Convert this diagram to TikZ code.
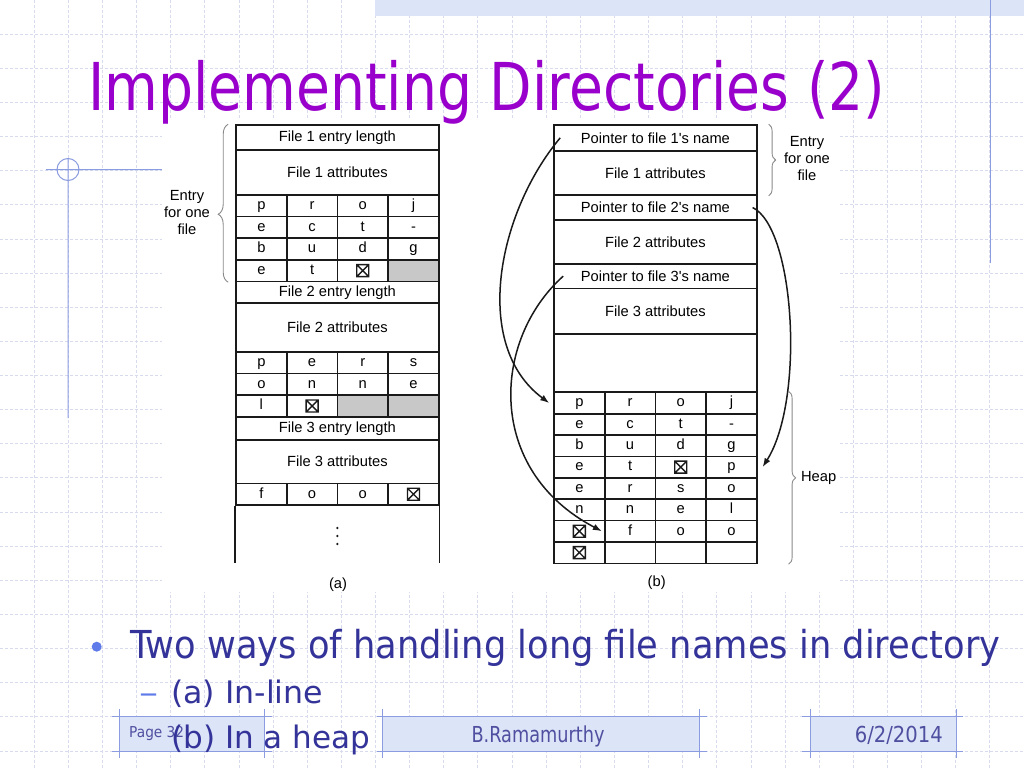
\documentclass[tikz,border=0pt]{standalone}
\usepackage{fontspec}
\usepackage{graphicx}
\usepackage{tikz}
\usetikzlibrary{decorations.pathreplacing, arrows.meta}
\newfontfamily\figfont{Liberation Sans}
\newfontfamily\slidefont{DejaVu Sans}
\definecolor{titlepurple}{HTML}{9900CC}
\definecolor{navy}{HTML}{333399}
\definecolor{footblue}{HTML}{4F4FA0}
\definecolor{decoblue}{HTML}{8C9CE0}
\definecolor{dotblue}{HTML}{5F7BEA}
\definecolor{gridline}{HTML}{D8DBEE}
\definecolor{bandfill}{HTML}{DCE4F8}
\definecolor{shade}{HTML}{C8C8C8}
\definecolor{ink}{HTML}{1A1A1A}
\definecolor{bracegray}{HTML}{8A8A8A}
\newcommand{\figtext}{\figfont\fontsize{14.7pt}{17pt}\selectfont}
\newcommand{\slidetext}[1]{\slidefont\fontsize{#1}{#1}\selectfont}
\newcommand{\fitw}[2]{\resizebox{#1}{\height}{#2}}
\newcommand{\xbox}{\tikz[baseline=2.2pt]\draw[line width=1.4pt, ink] (0pt,0pt) rectangle (12pt,12pt) (0pt,0pt)--(12pt,12pt) (0pt,12pt)--(12pt,0pt);}
\tikzset{>={Latex[length=9pt, width=6.5pt]},
  tbl/.style={draw=ink, line width=1.6pt},
  wide/.style={tbl, minimum width=202.8pt, inner sep=0pt, font=\figtext},
  chr/.style={tbl, minimum width=50.7pt, minimum height=21.6pt, inner sep=0pt, text height=7.6pt, text depth=0pt, font=\figtext},
  shaded/.style={chr, fill=shade},
  curly/.style={draw=bracegray, line width=0.9pt, decorate},
  ptr/.style={->, ink, line width=1.5pt},
  gridln/.style={gridline, line width=0.8pt, dash pattern=on 3pt off 2pt},
  decoline/.style={draw=decoblue, line width=1pt},
  slide/.style={anchor=base west, inner sep=0pt}}
% one row of name characters: name, left x, centre y, characters
\newcommand{\charrow}[4]{\foreach \t [count=\c] in {#4}
  \node[chr] (#1-\c) at ({#2+50.7*(\c-0.5)}, #3) {\t};}

\begin{document}
\begin{tikzpicture}[x=1pt, y=-1pt]
    \useasboundingbox[fill=white] (0,0) rectangle (1024,768);
    % slide background
    \foreach \k in {1,...,29} \draw[gridln] ({\k*34.133},0) -- ({\k*34.133},768);
    \foreach \k in {1,...,22} \draw[gridln] (0,{\k*34.133}) -- (1024,{\k*34.133});
    \fill[bandfill] (375,0) rectangle (1024,16);
    \draw[decoline] (990,0) -- (990,263);
    \draw[decoline] (68,169.5) circle (11) (46,169.5) -- (162,169.5) (68,158.5) -- (68,418);
    \fill[white] (162,120) rectangle (840,592);
    \node[slide, text=titlepurple, font={\slidetext{66pt}}] (title) at (88,110) {\fitw{797pt}{Implementing Directories (2)}};

    % (a) in-line
    \node[wide, minimum height=25pt] (a-len1) at (337.4,137.5) {File 1 entry length};
    \node[wide, minimum height=45pt] (a-att1) at (337.4,172.5) {File 1 attributes};
    \charrow{a1}{236}{205.8}{p,r,o,j}
    \charrow{a2}{236}{227.4}{e,c,t,-}
    \charrow{a3}{236}{249}{b,u,d,g}
    \charrow{a4}{236}{270.6}{e,t,\xbox,{}}
    \node[shaded] (a4-g) at (a4-4) {};
    \node[wide, minimum height=21.6pt] (a-len2) at (337.4,292.2) {File 2 entry length};
    \node[wide, minimum height=49pt] (a-att2) at (337.4,327.5) {File 2 attributes};
    \charrow{a5}{236}{362.8}{p,e,r,s}
    \charrow{a6}{236}{384.4}{o,n,n,e}
    \charrow{a7}{236}{406}{l,\xbox,{},{}}
    \node[shaded] (a7-g1) at (a7-3) {};
    \node[shaded] (a7-g2) at (a7-4) {};
    \node[wide, minimum height=23.2pt] (a-len3) at (337.4,428.4) {File 3 entry length};
    \node[wide, minimum height=43.4pt] (a-att3) at (337.4,461.7) {File 3 attributes};
    \charrow{a8}{236}{494.2}{f,o,o,\xbox}
    \draw[tbl] (a8-1.south west) -- (a8-1.south west |- 0,563);
    \draw[tbl] (a8-4.south east) -- (a8-4.south east |- 0,563);
    \foreach \yy in {528,536,544} \fill[ink] (337.4,\yy) circle (1.3);
    \draw[curly, decoration={brace, amplitude=10pt, aspect=0.43}] ([xshift=-7pt]a4-1.south west) -- ([xshift=-7pt]a-len1.north west);
    \node[align=center, font=\figtext] (entry-a) at (187,213) {Entry\\for one\\file};
    \node[font=\figtext] (cap-a) at (338,585) {(a)};

    % (b) in a heap
    \node[wide, minimum height=25.7pt] (b-p1) at (655.4,137.85) {Pointer to file 1's name};
    \node[wide, minimum height=44.3pt] (b-att1) at (655.4,172.85) {File 1 attributes};
    \node[wide, minimum height=25pt] (b-p2) at (655.4,207.5) {Pointer to file 2's name};
    \node[wide, minimum height=44pt] (b-att2) at (655.4,242) {File 2 attributes};
    \node[wide, minimum height=24.3pt] (b-p3) at (655.4,276.15) {Pointer to file 3's name};
    \node[wide, minimum height=45.7pt] (b-att3) at (655.4,311.15) {File 3 attributes};
    \node[wide, minimum height=58.3pt] (b-free) at (655.4,363.15) {};
    \charrow{h1}{554}{403}{p,r,o,j}
    \charrow{h2}{554}{424.4}{e,c,t,-}
    \charrow{h3}{554}{445.7}{b,u,d,g}
    \charrow{h4}{554}{467.1}{e,t,\xbox,p}
    \charrow{h5}{554}{488.5}{e,r,s,o}
    \charrow{h6}{554}{509.8}{n,n,e,l}
    \charrow{h7}{554}{531.2}{\xbox,f,o,o}
    \charrow{h8}{554}{552.6}{\xbox,{},{},{}}
    \draw[curly, decoration={brace, amplitude=7pt}] ([xshift=11pt]b-p1.north east) -- ([xshift=11pt]b-att1.south east);
    \node[align=center, font=\figtext] (entry-b) at (807,159) {Entry\\for one\\file};
    \draw[curly, decoration={brace, amplitude=7pt}] ([xshift=31pt]h1-4.north east) -- ([xshift=31pt]h8-4.south east);
    \node[anchor=west, font=\figtext] (heap) at (797.5,478) {Heap};
    \node[font=\figtext] (cap-b) at (656.7,583) {(b)};
    \draw[ptr] ([xshift=7pt]b-p1.west) .. controls (498,212) and (471,345) .. ([xshift=-4pt]h1-1.west);
    \draw[ptr] ([xshift=-5pt]b-p2.east) .. controls (795,228) and (805,400) .. ([xshift=5pt]h4-4.east);
    \draw[ptr] ([xshift=10pt]b-p3.west) .. controls (492,340) and (485,470) .. ([xshift=-2pt]h7-2.west);

    % footer
    \fill[bandfill] (119,716) rectangle (264,751) (382,716) rectangle (699,751) (810,716) rectangle (956,751);
    \draw[decoline] (112,716) -- (272,716) (112,751) -- (272,751) (119,709) -- (119,758) (264,709) -- (264,758);
    \draw[decoline] (377,716) -- (707,716) (377,751) -- (707,751) (382,709) -- (382,758) (699,709) -- (699,758);
    \draw[decoline] (802,716) -- (963,716) (802,751) -- (963,751) (810,709) -- (810,758) (956,709) -- (956,758);
    \node[slide, text=footblue, font={\slidetext{15pt}}] (page) at (129,737) {\fitw{55pt}{Page 32}};
    \node[anchor=base, inner sep=0pt, text=footblue, font={\slidetext{22pt}}] (author) at (538,742) {\fitw{133pt}{B.Ramamurthy}};
    \node[anchor=base east, inner sep=0pt, text=footblue, font={\slidetext{22pt}}] (date) at (943,742) {\fitw{88pt}{6/2/2014}};

    % bullet text
    \node[circle, fill=dotblue, minimum size=10pt, inner sep=0pt] (dot) at (96.7,646.7) {};
    \node[slide, text=navy, font={\slidetext{38.5pt}}] (item) at (130,658) {\fitw{870pt}{Two ways of handling long file names in directory}};
    \node[slide, text=dotblue, font={\slidetext{31pt}}] (dash) at (139,703) {\fitw{19pt}{–}};
    \node[slide, text=navy, font={\slidetext{31pt}}] (sub-a) at (171,703) {\fitw{152pt}{(a) In-line}};
    \node[slide, text=navy, font={\slidetext{31pt}}] (sub-b) at (171,748) {\fitw{199pt}{(b) In a heap}};
\end{tikzpicture}
\end{document}
